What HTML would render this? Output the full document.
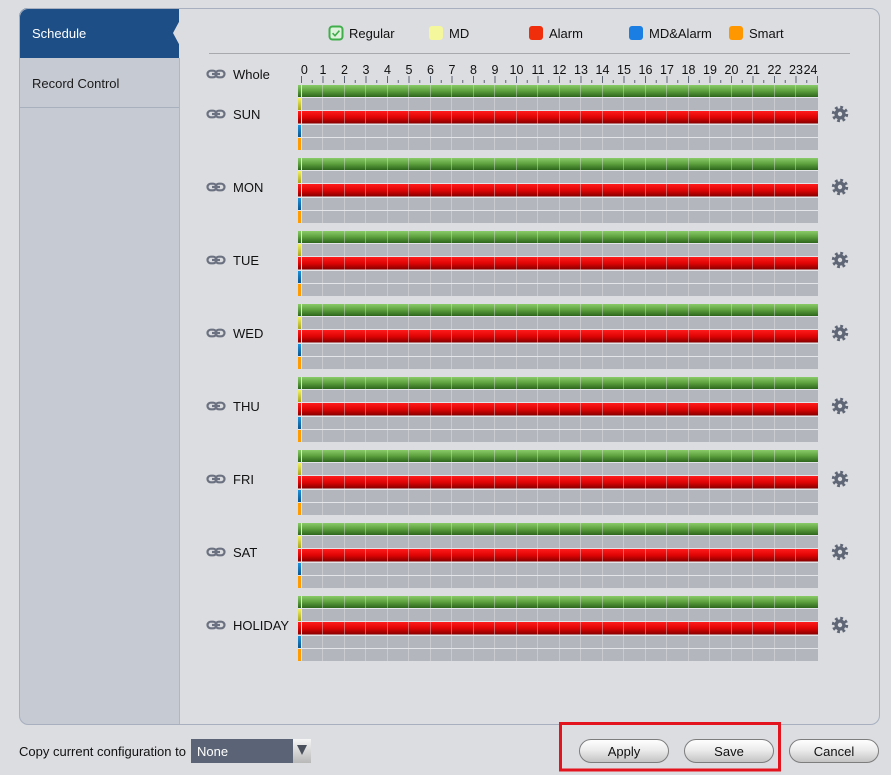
<!DOCTYPE html>
<html><head><meta charset="utf-8"><style>
html,body{margin:0;padding:0;background:#dcdde1;width:891px;height:775px;overflow:hidden}
svg{display:block;font-family:"Liberation Sans",Arial,sans-serif}
</style></head><body>
<svg width="891" height="775" viewBox="0 0 891 775" xmlns="http://www.w3.org/2000/svg">
<defs>
 <linearGradient id="gG" x1="0" y1="0" x2="0" y2="1"><stop offset="0" stop-color="#8acb68"/><stop offset="0.5" stop-color="#5c9f3d"/><stop offset="1" stop-color="#2c661c"/></linearGradient>
 <linearGradient id="gR" x1="0" y1="0" x2="0" y2="1"><stop offset="0" stop-color="#ff1c1c"/><stop offset="0.5" stop-color="#e00404"/><stop offset="1" stop-color="#860000"/></linearGradient>
 <linearGradient id="gY" x1="0" y1="0" x2="0" y2="1"><stop offset="0" stop-color="#f0f060"/><stop offset="1" stop-color="#a6a41c"/></linearGradient>
 <linearGradient id="gB" x1="0" y1="0" x2="0" y2="1"><stop offset="0" stop-color="#1c92da"/><stop offset="1" stop-color="#0a5690"/></linearGradient>
 <linearGradient id="gBtn" x1="0" y1="0" x2="0" y2="1"><stop offset="0" stop-color="#ffffff"/><stop offset="0.45" stop-color="#ececec"/><stop offset="1" stop-color="#c2c2c2"/></linearGradient>
 <linearGradient id="gArr" x1="0" y1="0" x2="0" y2="1"><stop offset="0" stop-color="#f6f6f6"/><stop offset="1" stop-color="#b8b8b8"/></linearGradient>
 <pattern id="vl" patternUnits="userSpaceOnUse" x="301.5" y="0" width="21.5" height="65">
  <rect x="21.1" y="0" width="1.1" height="65" fill="#e6e7ea"/>
 </pattern>
 <pattern id="tk" patternUnits="userSpaceOnUse" x="301" y="76" width="21.5" height="8">
  <rect x="0" y="0" width="1" height="7" fill="#5d6472"/>
  <rect x="10.75" y="4" width="1" height="3" fill="#5d6472"/>
 </pattern>
 <clipPath id="pc"><rect x="19" y="8" width="861" height="717" rx="9"/></clipPath>
 <g id="blk">
  <rect x="298" y="0" width="520" height="65" fill="#e4e5e8"/>
  <rect x="298" y="0" width="3" height="12" fill="url(#gG)"/>
  <rect x="302" y="0" width="516" height="12" fill="url(#gG)"/>
  <rect x="298" y="13" width="3" height="12" fill="url(#gY)"/>
  <rect x="302" y="13" width="516" height="12" fill="#b3b6bd"/>
  <rect x="298" y="26" width="3" height="12.5" fill="url(#gR)"/>
  <rect x="302" y="26" width="516" height="12.5" fill="url(#gR)"/>
  <rect x="298" y="40" width="3" height="12" fill="url(#gB)"/>
  <rect x="302" y="40" width="516" height="12" fill="#b3b6bd"/>
  <rect x="298" y="53" width="3" height="12" fill="#ff9a00"/>
  <rect x="302" y="53" width="516" height="12" fill="#b3b6bd"/>
  <rect x="302" y="0" width="515" height="65" fill="url(#vl)"/>
 </g>
 <g id="gear">
  <circle cx="0" cy="0" r="6.4" fill="none" stroke="#5f6676" stroke-width="3.6" stroke-dasharray="2.6 2.43"/>
  <circle cx="0" cy="0" r="5.6" fill="#5f6676"/>
  <circle cx="0" cy="0" r="2.2" fill="#dcdde1"/>
 </g>
 <g id="link" fill="none" stroke="#6b7180" stroke-width="2.2">
  <rect x="0.5" y="-3.3" width="9" height="6.6" rx="3.3"/>
  <rect x="8.5" y="-3.3" width="9" height="6.6" rx="3.3"/>
  <line x1="5" y1="0" x2="13" y2="0"/>
 </g>
</defs>

<!-- panel -->
<rect x="19" y="8" width="861" height="717" rx="9" fill="#dcdde1"/>
<g clip-path="url(#pc)">
 <rect x="19" y="8" width="160" height="717" fill="#c6cad3"/>
 <rect x="19" y="8" width="160" height="50" fill="#1d4e86"/>
 <line x1="19" y1="107.5" x2="179" y2="107.5" stroke="#a9b0bd" stroke-width="1"/>
 <line x1="179.5" y1="58" x2="179.5" y2="725" stroke="#b0b7c4" stroke-width="1"/>
</g>
<polygon points="180,20 173,33 180,46" fill="#dcdde1"/>
<rect x="19.5" y="8.5" width="860" height="716" rx="9" fill="none" stroke="#a8b0bf" stroke-width="1"/>
<rect x="19" y="8" width="160" height="20" fill="none"/>
<text x="32" y="38" font-size="13" fill="#ffffff">Schedule</text>
<text x="32" y="88" font-size="13" fill="#1a1a1a">Record Control</text>

<!-- legend -->
<rect x="329.5" y="26.5" width="13" height="13" rx="3" fill="#dff2dc" stroke="#3fae4b" stroke-width="2"/>
<path d="M332.6 33.2 L335 35.7 L339.4 30.6" fill="none" stroke="#3fae4b" stroke-width="1.6"/>
<text x="349" y="38" font-size="13" fill="#111">Regular</text>
<rect x="429" y="26" width="14" height="14" rx="3" fill="#f4f79b"/>
<text x="449" y="38" font-size="13" fill="#111">MD</text>
<rect x="529" y="26" width="14" height="14" rx="3" fill="#f02e0c"/>
<text x="549" y="38" font-size="13" fill="#111">Alarm</text>
<rect x="629" y="26" width="14" height="14" rx="3" fill="#1a7ee2"/>
<text x="649" y="38" font-size="13" fill="#111">MD&amp;Alarm</text>
<rect x="729" y="26" width="14" height="14" rx="3" fill="#ff9800"/>
<text x="749" y="38" font-size="13" fill="#111">Smart</text>
<line x1="209" y1="53.5" x2="850" y2="53.5" stroke="#a8a9ad" stroke-width="1"/>

<!-- header -->
<use href="#link" x="207" y="74"/>
<text x="233" y="79" font-size="13" fill="#111">Whole</text>
<g font-size="12.5" fill="#111" text-anchor="middle">
 <text x="304.3" y="74">0</text><text x="323" y="74">1</text><text x="344.5" y="74">2</text><text x="366" y="74">3</text>
 <text x="387.5" y="74">4</text><text x="409" y="74">5</text><text x="430.5" y="74">6</text><text x="452" y="74">7</text>
 <text x="473.5" y="74">8</text><text x="495" y="74">9</text><text x="516.5" y="74">10</text><text x="538" y="74">11</text>
 <text x="559.5" y="74">12</text><text x="581" y="74">13</text><text x="602.5" y="74">14</text><text x="624" y="74">15</text>
 <text x="645.5" y="74">16</text><text x="667" y="74">17</text><text x="688.5" y="74">18</text><text x="710" y="74">19</text>
 <text x="731.5" y="74">20</text><text x="753" y="74">21</text><text x="774.5" y="74">22</text><text x="796" y="74">23</text>
 <text x="817.5" y="74" text-anchor="end">24</text>
</g>
<rect x="300" y="76" width="519" height="7" fill="url(#tk)"/>

<!-- blocks -->
<use href="#blk" x="0" y="85"/>
<use href="#blk" x="0" y="158"/>
<use href="#blk" x="0" y="231"/>
<use href="#blk" x="0" y="304"/>
<use href="#blk" x="0" y="377"/>
<use href="#blk" x="0" y="450"/>
<use href="#blk" x="0" y="523"/>
<use href="#blk" x="0" y="596"/>

<!-- day labels -->
<g font-size="13" fill="#111">
 <use href="#link" x="207" y="114"/><text x="233" y="119">SUN</text>
 <use href="#link" x="207" y="187"/><text x="233" y="192">MON</text>
 <use href="#link" x="207" y="260"/><text x="233" y="265">TUE</text>
 <use href="#link" x="207" y="333"/><text x="233" y="338">WED</text>
 <use href="#link" x="207" y="406"/><text x="233" y="411">THU</text>
 <use href="#link" x="207" y="479"/><text x="233" y="484">FRI</text>
 <use href="#link" x="207" y="552"/><text x="233" y="557">SAT</text>
 <use href="#link" x="207" y="625"/><text x="233" y="630">HOLIDAY</text>
</g>
<use href="#gear" x="840" y="114"/>
<use href="#gear" x="840" y="187"/>
<use href="#gear" x="840" y="260"/>
<use href="#gear" x="840" y="333"/>
<use href="#gear" x="840" y="406"/>
<use href="#gear" x="840" y="479"/>
<use href="#gear" x="840" y="552"/>
<use href="#gear" x="840" y="625"/>

<!-- bottom -->
<text x="19" y="756" font-size="13" fill="#111">Copy current configuration to</text>
<rect x="191" y="739" width="102" height="24" fill="#5b6476"/>
<text x="197" y="756" font-size="13" fill="#ffffff">None</text>
<rect x="293" y="739" width="18" height="24" fill="url(#gArr)"/>
<polygon points="297,745 307,745 302,755" fill="#4a505c"/>

<rect x="579.5" y="739.5" width="89" height="23" rx="11.5" fill="url(#gBtn)" stroke="#7d7d7d" stroke-width="1"/>
<text x="624" y="756" font-size="13" fill="#111" text-anchor="middle">Apply</text>
<rect x="684.5" y="739.5" width="89" height="23" rx="11.5" fill="url(#gBtn)" stroke="#7d7d7d" stroke-width="1"/>
<text x="729" y="756" font-size="13" fill="#111" text-anchor="middle">Save</text>
<rect x="789.5" y="739.5" width="89" height="23" rx="11.5" fill="url(#gBtn)" stroke="#7d7d7d" stroke-width="1"/>
<text x="834" y="756" font-size="13" fill="#111" text-anchor="middle">Cancel</text>

<rect x="560.5" y="723.5" width="219" height="46.5" fill="none" stroke="#e3141e" stroke-width="3"/>
</svg>
</body></html>
